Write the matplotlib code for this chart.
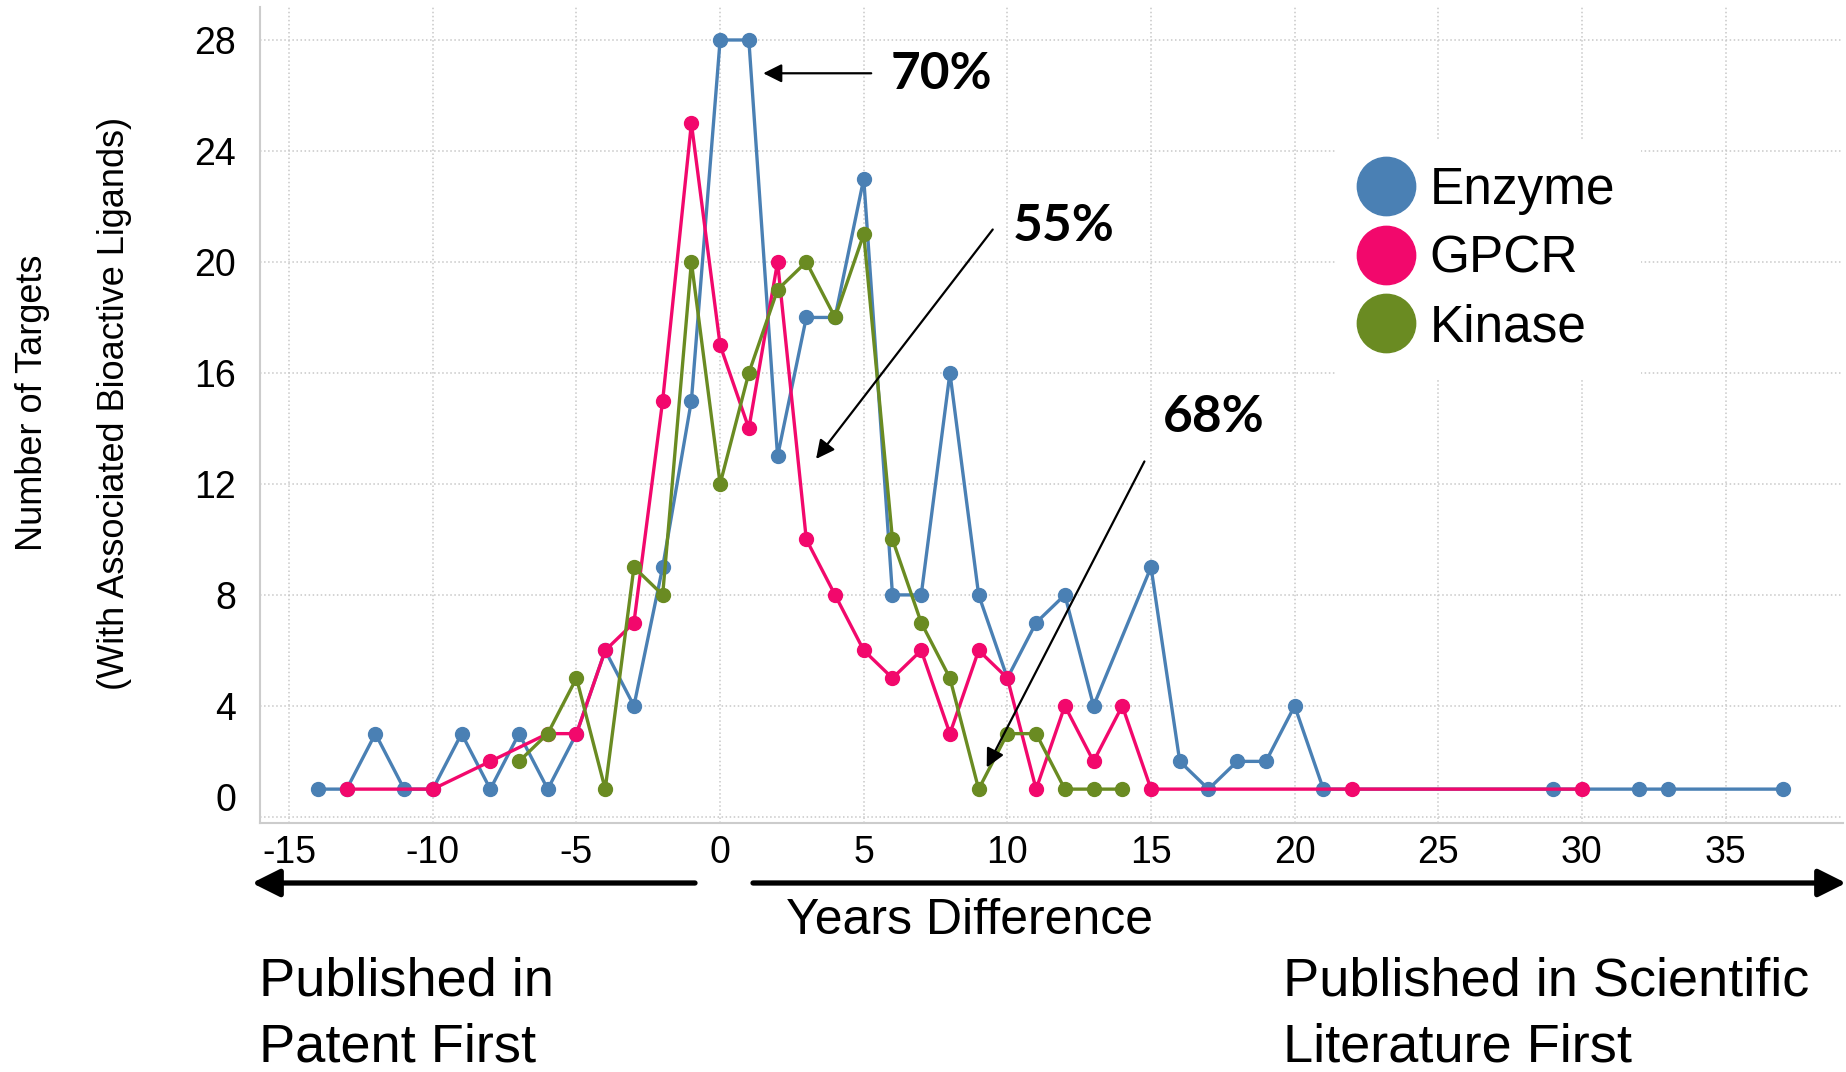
import numpy as np
import matplotlib
matplotlib.use('Agg')
import matplotlib.pyplot as plt
from matplotlib.lines import Line2D
from matplotlib.patches import FancyArrowPatch
from matplotlib.transforms import ScaledTranslation

plt.rcParams['font.family'] = ['Liberation Sans', 'DejaVu Sans']
plt.rcParams['axes.unicode_minus'] = False

# --- data (years difference -> number of targets)
enzyme_x = [-14, -13, -12, -11, -10, -9, -8, -7, -6, -5, -4, -3, -2, -1, 0, 1, 2, 3, 4, 5,
            6, 7, 8, 9, 10, 11, 12, 13, 15, 16, 17, 18, 19, 20, 21, 29, 32, 33, 37]
enzyme_y = [1, 1, 3, 1, 1, 3, 1, 3, 1, 3, 6, 4, 9, 15, 28, 28, 13, 18, 18, 23,
            8, 8, 16, 8, 5, 7, 8, 4, 9, 2, 1, 2, 2, 4, 1, 1, 1, 1, 1]

gpcr_x = [-13, -10, -8, -6, -5, -4, -3, -2, -1, 0, 1, 2, 3, 4, 5, 6, 7, 8, 9, 10,
          11, 12, 13, 14, 15, 22, 30]
gpcr_y = [1, 1, 2, 3, 3, 6, 7, 15, 25, 17, 14, 20, 10, 8, 6, 5, 6, 3, 6, 5,
          1, 4, 2, 4, 1, 1, 1]

kinase_x = [-7, -6, -5, -4, -3, -2, -1, 0, 1, 2, 3, 4, 5, 6, 7, 8, 9, 10, 11, 12, 13, 14]
kinase_y = [2, 3, 5, 1, 9, 8, 20, 12, 16, 19, 20, 18, 21, 10, 7, 5, 1, 3, 3, 1, 1, 1]

series_names = ['Enzyme', 'GPCR', 'Kinase']
series_colors = ['#4A80B4', '#F2086C', '#6A8B22']

yticks = [0, 4, 8, 12, 16, 20, 24, 28]
xticks = [-15, -10, -5, 0, 5, 10, 15, 20, 25, 30, 35]

# annotation labels with (text pos, arrow tail, arrow head) in data units
notes = ['70%', '55%', '68%']
note_text_xy = [(5.95, 26.75), (10.18, 21.26), (15.43, 14.38)]
note_tail_xy = [(5.26, 26.8), (9.49, 21.17), (14.77, 12.81)]
note_head_xy = [(1.50, 26.8), (3.34, 12.9), (9.28, 1.78)]

fig = plt.figure(figsize=(18.46, 10.72), dpi=100)
ax = fig.add_axes([0.1408, 0.2323, 0.9984 - 0.1408, 0.9935 - 0.2323])

for xs, ys, c, n in zip([enzyme_x, gpcr_x, kinase_x], [enzyme_y, gpcr_y, kinase_y],
                        series_colors, series_names):
    ax.plot(xs, ys, color=c, lw=2.4, marker='o', markersize=10, label=n, zorder=3)

ax.set_xlim(-16.02, 39.09)
ax.set_ylim(-0.22, 29.19)
ax.set_xticks(xticks)
ax.set_yticks(yticks)
ax.grid(True, linestyle=':', color='#c8c8c8', lw=1.1)
ax.set_axisbelow(True)
ax.tick_params(axis='both', length=0, labelsize=27)
ax.tick_params(axis='y', pad=17)
ax.tick_params(axis='x', pad=9)
for s in ['top', 'right']:
    ax.spines[s].set_visible(False)
for s in ['left', 'bottom']:
    ax.spines[s].set_color('#cccccc')
    ax.spines[s].set_linewidth(1.5)

# the "0" label sits a bit higher in the original
t0 = ax.yaxis.get_major_ticks()[0]
t0.label1.set_transform(t0.label1.get_transform() + ScaledTranslation(0, 0.2, fig.dpi_scale_trans))

# percentage annotations
for t, txy, tail, head in zip(notes, note_text_xy, note_tail_xy, note_head_xy):
    ax.text(txy[0], txy[1], t, fontsize=37, fontweight='bold', family=['Lato', 'DejaVu Sans'],
            ha='left', va='center', zorder=5)
    ax.annotate('', xy=head, xytext=tail,
                arrowprops=dict(arrowstyle='-|>', color='black', lw=1.6, mutation_scale=28,
                                shrinkA=0, shrinkB=0), zorder=5)

# legend
handles = [Line2D([], [], ls='none', marker='o', markersize=42, color=c) for c in series_colors]
leg = fig.legend(handles, series_names, loc='upper left', bbox_to_anchor=(1309 / 1846, 1 - 115 / 1072),
                 fontsize=37, frameon=True, facecolor='white', edgecolor='none', framealpha=1,
                 handlelength=1.0, handletextpad=0.35, labelspacing=0.38, borderpad=0.5,
                 fancybox=False)

# y axis label in two lines
fig.text(33 / 1846, 1 - 403 / 1072, 'Number of Targets', rotation=90, fontsize=26,
         ha='center', va='center')
fig.text(114 / 1846, 1 - 403 / 1072, '(With Associated Bioactive Ligands)', rotation=90,
         fontsize=26, ha='center', va='center')

# direction arrows under the x axis
def fig_arrow(x0, x1, y):
    a = FancyArrowPatch((x0 / 1846, 1 - y / 1072), (x1 / 1846, 1 - y / 1072),
                        transform=fig.transFigure, arrowstyle='-|>', mutation_scale=42,
                        lw=3.8, color='black', shrinkA=0, shrinkB=0)
    fig.add_artist(a)

fig_arrow(695, 252, 883)
fig_arrow(753, 1846, 883)

fig.text(970 / 1846, 1 - 921 / 1072, 'Years Difference', fontsize=36, ha='center', va='center')
fig.text(259 / 1846, 1 - 996 / 1072, 'Published in', fontsize=39, ha='left', va='baseline')
fig.text(259 / 1846, 1 - 1061 / 1072, 'Patent First', fontsize=39, ha='left', va='baseline')
fig.text(1283 / 1846, 1 - 996 / 1072, 'Published in Scientific', fontsize=39, ha='left', va='baseline')
fig.text(1283 / 1846, 1 - 1061 / 1072, 'Literature First', fontsize=39, ha='left', va='baseline')

fig.savefig('out.png', dpi=100, facecolor='white')
